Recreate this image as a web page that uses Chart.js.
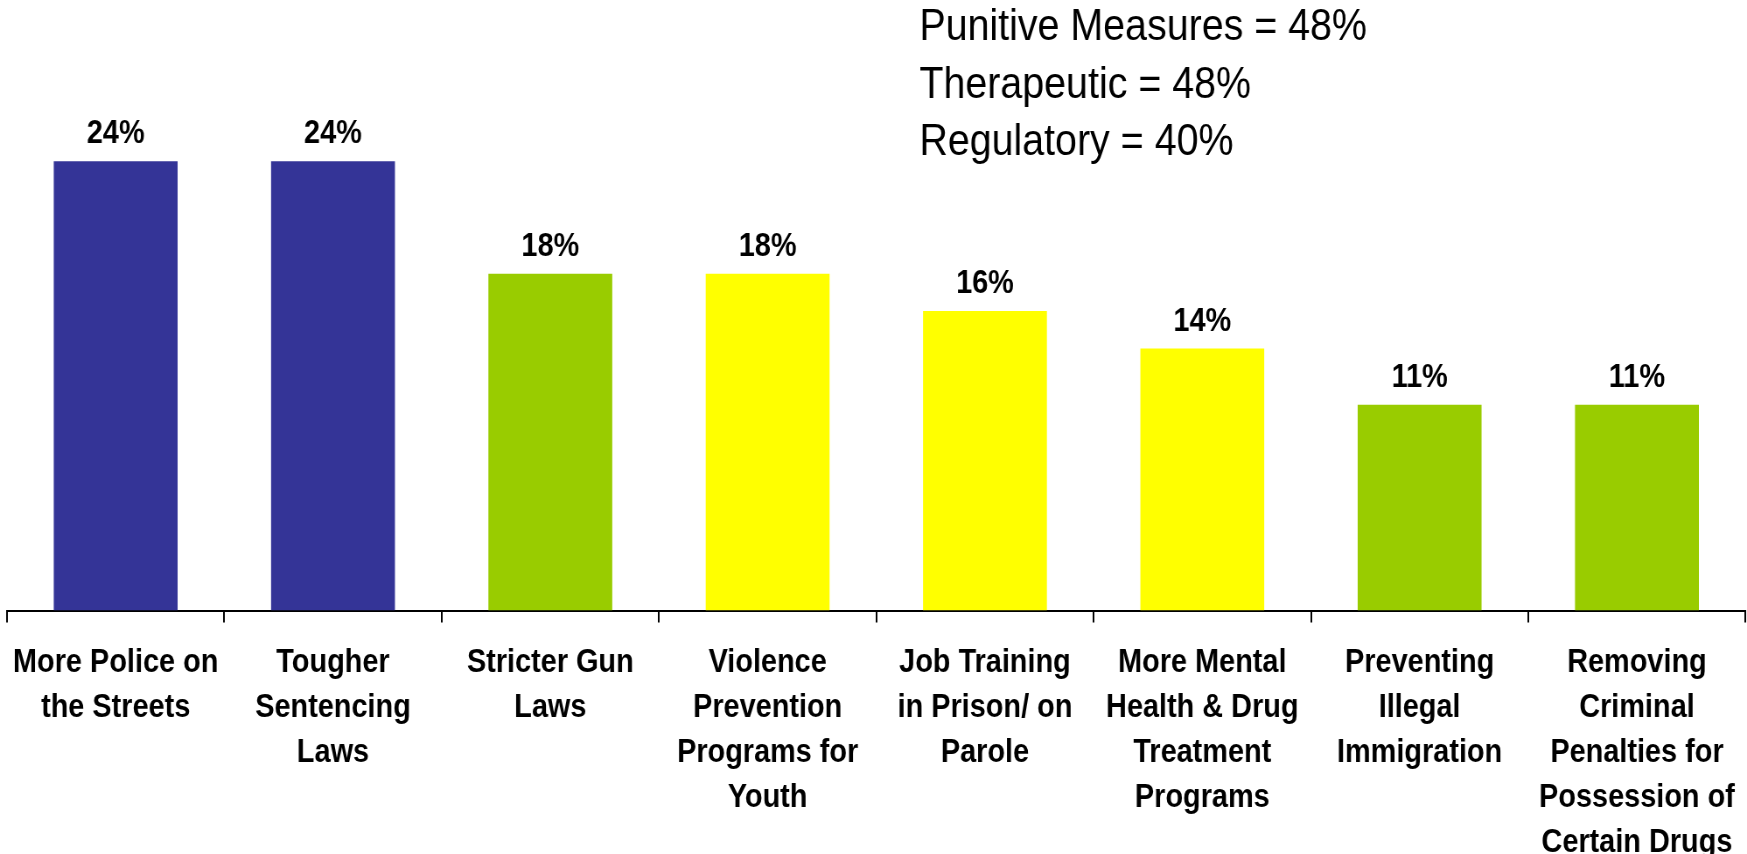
<!DOCTYPE html>
<html>
<head>
<meta charset="utf-8">
<title>Ways to reduce crime</title>
<script src="https://cdn.jsdelivr.net/npm/chart.js@4.4.1/dist/chart.umd.min.js"></script>
<style>
  html, body { margin: 0; padding: 0; background: #fff; }
  #wrap { width: 1747px; height: 854px; overflow: hidden; }
</style>
</head>
<body>
<div id="wrap"><canvas id="chart" style="display:block;width:1747px;height:854px"></canvas></div>
<script>
// category labels, one line per array entry
const categories = [
    ['More Police on', 'the Streets'],
    ['Tougher', 'Sentencing', 'Laws'],
    ['Stricter Gun', 'Laws'],
    ['Violence', 'Prevention', 'Programs for', 'Youth'],
    ['Job Training', 'in Prison/ on', 'Parole'],
    ['More Mental', 'Health & Drug', 'Treatment', 'Programs'],
    ['Preventing', 'Illegal', 'Immigration'],
    ['Removing', 'Criminal', 'Penalties for', 'Possession of', 'Certain Drugs']
];
const percents = [24, 24, 18, 18, 16, 14, 11, 11];
const groups = ['Punitive', 'Punitive', 'Regulatory', 'Therapeutic', 'Therapeutic', 'Therapeutic', 'Regulatory', 'Regulatory'];
const summaryLines = ['Punitive Measures = 48%', 'Therapeutic = 48%', 'Regulatory = 40%'];

const groupColors = { Punitive: '#343497', Therapeutic: '#ffff00', Regulatory: '#99cc00' };
const fontFamily = '"Liberation Sans", Arial, Helvetica, sans-serif';

// the slide text is a bit condensed, so draw the chart wider and let css squeeze it back
const squeeze = 0.875;
const canvas = document.getElementById('chart');
canvas.width = Math.round(1747 / squeeze);
canvas.height = 854;

const axisY = 610.6;

// percent labels above the bars
const valueLabels = {
    id: 'valueLabels',
    afterDatasetsDraw(chart) {
        const ctx = chart.ctx;
        const meta = chart.getDatasetMeta(0);
        ctx.save();
        ctx.font = 'bold 33px ' + fontFamily;
        ctx.fillStyle = '#000';
        ctx.textAlign = 'center';
        ctx.textBaseline = 'alphabetic';
        meta.data.forEach((bar, i) => {
            ctx.fillText(percents[i] + '%', bar.x, bar.y - 18);
        });
        ctx.restore();
    }
};

// group totals in the top right
const summaryText = {
    id: 'summaryText',
    afterDraw(chart) {
        const ctx = chart.ctx;
        ctx.save();
        ctx.font = '45px ' + fontFamily;
        ctx.fillStyle = '#000';
        ctx.textAlign = 'left';
        ctx.textBaseline = 'alphabetic';
        summaryLines.forEach((line, i) => {
            ctx.fillText(line, 1051, 40 + i * 57.5);
        });
        ctx.restore();
    }
};

new Chart(canvas, {
    type: 'bar',
    data: {
        labels: categories,
        datasets: [{
            data: percents,
            backgroundColor: groups.map(g => groupColors[g]),
            borderWidth: 0,
            categoryPercentage: 1,
            barPercentage: 0.57
        }]
    },
    options: {
        responsive: false,
        animation: false,
        devicePixelRatio: 1,
        layout: { padding: { top: axisY - 32 * 18.72, left: 8, right: 1.6, bottom: 0 } },
        plugins: {
            legend: { display: false },
            tooltip: { enabled: false },
            title: { display: false }
        },
        scales: {
            x: {
                grid: {
                    display: true,
                    drawOnChartArea: false,
                    drawTicks: true,
                    tickLength: 12,
                    color: '#000',
                    lineWidth: 2,
                    offset: true
                },
                border: { display: true, color: '#000', width: 2 },
                ticks: {
                    color: '#000',
                    font: { family: fontFamily, size: 33, weight: 'bold', lineHeight: 45 / 33 },
                    padding: 18,
                    autoSkip: false,
                    maxRotation: 0,
                    minRotation: 0
                },
                afterFit(scale) {
                    // fixed axis height, and no extra side room for the edge labels
                    scale.height = 854 - axisY;
                    scale.paddingLeft = 0;
                    scale.paddingRight = 0;
                }
            },
            y: {
                display: false,
                min: 0,
                max: 32
            }
        }
    },
    plugins: [valueLabels, summaryText]
});
</script>
</body>
</html>
